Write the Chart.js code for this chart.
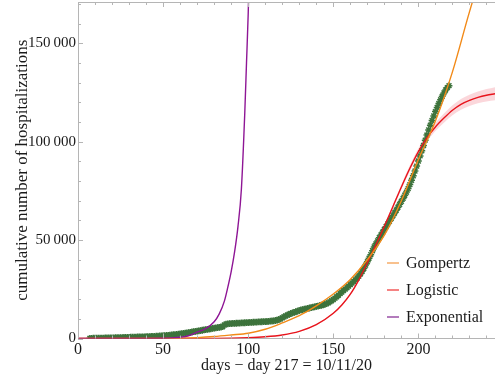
<!DOCTYPE html>
<html>
<head>
<meta charset="utf-8">
<script src="https://cdn.jsdelivr.net/npm/chart.js@4.4.1/dist/chart.umd.min.js"></script>
<style>
  html, body { margin: 0; padding: 0; background: #fff; }
  #wrap { width: 495px; height: 376px; }
</style>
</head>
<body>
<div id="wrap"><canvas id="chart" width="495" height="376"></canvas></div>
<script>
// observed cumulative hospitalizations, one value per day starting at day 7
const obsFirstDay = 7;
const obsValues = [
    100, 110, 120, 140, 160, 180, 200, 220, 240, 260,
    280, 300, 320, 340, 360, 380, 400, 420, 450, 480,
    510, 540, 570, 600, 630, 660, 690, 720, 750, 780,
    810, 840, 870, 900, 940, 980, 1020, 1060, 1100, 1150,
    1200, 1260, 1320, 1390, 1460, 1540, 1620, 1710, 1800, 1900,
    2000, 2110, 2220, 2340, 2460, 2590, 2720, 2860, 3000, 3150,
    3300, 3450, 3600, 3750, 3900, 4050, 4200, 4350, 4500, 4650,
    4800, 4950, 5100, 5250, 5400, 5550, 5700, 5850, 6000, 6900,
    7300, 7450, 7550, 7600, 7650, 7700, 7750, 7800, 7850, 7900,
    7950, 8000, 8050, 8100, 8150, 8200, 8250, 8300, 8350, 8400,
    8450, 8500, 8550, 8600, 8650, 8700, 8800, 8900, 9000, 9150,
    9350, 9650, 10000, 10500, 11000, 11500, 11900, 12300, 12700, 13000,
    13300, 13600, 13900, 14200, 14500, 14700, 14900, 15100, 15300, 15500,
    15700, 15900, 16100, 16300, 16500, 16700, 16900, 17100, 17400, 17700,
    18100, 18600, 19200, 19800, 20500, 21200, 22000, 22800, 23600, 24400,
    25100, 25800, 26600, 27400, 28200, 29000, 29800, 30700, 31700, 32900,
    34200, 35700, 37300, 39000, 40800, 42600, 44600, 46500, 48100, 49600,
    51200, 52600, 54000, 55400, 56800, 58200, 59600, 61000, 62400, 63800,
    65200, 66700, 68200, 69700, 71200, 72800, 74400, 76200, 78200, 80400,
    82700, 85100, 87600, 90200, 92800, 95400, 98100, 100800, 103400, 106000,
    108400, 110800, 113100, 115300, 117400, 119400, 121300, 123100, 124800, 126300,
    127500, 128500
];

// fitted curves
const gompDays = [0, 50, 60, 70, 80, 90, 100, 110, 120, 130, 140, 150, 160, 170, 180, 190, 200, 210, 220, 230, 240, 245];
const gompValues = [0, 30, 150, 450, 1000, 1800, 2700, 4700, 7900, 11600, 16600, 22600, 30000, 40000, 52500, 70000, 91000, 110500, 135500, 166000, 194000, 206000];

const logDays = [0, 50, 80, 100, 110, 120, 130, 140, 150, 155, 160, 165, 170, 175, 180, 185, 190, 195, 200, 205, 210, 215, 220, 225, 230, 235, 240, 245];
const logValues = [0, 20, 80, 450, 900, 1800, 3600, 7000, 12800, 17000, 22500, 29800, 38500, 47500, 57000, 67000, 77000, 86500, 95000, 102000, 107500, 112000, 116000, 119000, 121000, 122500, 123600, 124400];
const logBand = [0, 0, 0, 50, 80, 120, 180, 250, 350, 420, 500, 600, 700, 820, 950, 1100, 1300, 1500, 1700, 1900, 2100, 2300, 2500, 2700, 2850, 3000, 3150, 3300];

const expDays = [0, 20, 40, 50, 55, 60, 65, 70, 75, 80, 83, 86, 88, 90, 92, 94, 96, 98, 99, 100, 101];
const expValues = [0, 10, 60, 150, 300, 650, 1400, 3200, 5000, 8500, 12500, 19000, 26000, 34000, 44000, 57000, 76000, 115000, 140000, 165000, 200000];

const yTicks = [0, 50000, 100000, 150000];
const legendItems = [
    { label: 'Gompertz', color: '#f6ad68' },
    { label: 'Logistic', color: '#f25a5a' },
    { label: 'Exponential', color: '#9a4fa6' }
];

const SERIF = "'Liberation Serif', 'DejaVu Serif', serif";

function pts(xs, ys) {
    return xs.map((x, i) => ({ x: x, y: ys[i] }));
}

const obsPoints = obsValues.map((v, i) => ({ x: obsFirstDay + i, y: v }));

function fmtThousands(v) {
    if (v === 0) return '0';
    return Math.round(v / 1000) + '\u2009000';
}

// frame on top plus inward tick marks, like the original
const frameTicks = {
    id: 'frameTicks',
    afterDatasetsDraw(chart) {
        const { ctx, chartArea, scales } = chart;
        const x = scales.x, y = scales.y;
        ctx.save();
        ctx.strokeStyle = '#b5b5b5';
        ctx.lineWidth = 1;
        ctx.beginPath();
        ctx.moveTo(chartArea.left, chartArea.top + 0.5);
        ctx.lineTo(chartArea.right, chartArea.top + 0.5);
        for (let d = 0; d <= 240; d += 10) {
            const px = Math.round(x.getPixelForValue(d)) + 0.5;
            const len = d % 50 === 0 ? 5 : 3;
            ctx.moveTo(px, chartArea.bottom);
            ctx.lineTo(px, chartArea.bottom - len);
            ctx.moveTo(px, chartArea.top);
            ctx.lineTo(px, chartArea.top + len);
        }
        for (let v = 0; v <= 170000; v += 10000) {
            const py = Math.round(y.getPixelForValue(v)) + 0.5;
            const len = v % 50000 === 0 ? 5 : 3;
            ctx.moveTo(chartArea.left, py);
            ctx.lineTo(chartArea.left + len, py);
        }
        ctx.stroke();
        ctx.restore();
    },
    afterDraw(chart) {
        const { ctx } = chart;
        ctx.save();
        ctx.font = '16px ' + SERIF;
        ctx.textBaseline = 'middle';
        ctx.fillStyle = '#1a1a1a';
        legendItems.forEach((item, i) => {
            const yy = 263 + i * 27;
            ctx.strokeStyle = item.color;
            ctx.lineWidth = 1.5;
            ctx.beginPath();
            ctx.moveTo(387, yy);
            ctx.lineTo(399, yy);
            ctx.stroke();
            ctx.fillText(item.label, 406, yy + 1);
        });
        ctx.restore();
    }
};

const ctx = document.getElementById('chart').getContext('2d');
new Chart(ctx, {
    type: 'line',
    data: {
        datasets: [
            {
                label: 'observed',
                type: 'scatter',
                data: obsPoints,
                pointStyle: 'star',
                pointRadius: 3.4,
                borderColor: '#3d733c',
                backgroundColor: '#3d733c',
                pointBorderWidth: 1.5,
                showLine: false,
                order: 10
            },
            {
                label: 'band low',
                data: pts(logDays, logValues.map((v, i) => v - logBand[i])),
                borderWidth: 0,
                pointRadius: 0,
                cubicInterpolationMode: 'monotone',
                fill: false,
                order: 20
            },
            {
                label: 'band high',
                data: pts(logDays, logValues.map((v, i) => v + logBand[i])),
                borderWidth: 0,
                pointRadius: 0,
                cubicInterpolationMode: 'monotone',
                backgroundColor: 'rgba(245, 150, 160, 0.38)',
                fill: '-1',
                order: 20
            },
            {
                label: 'Logistic',
                data: pts(logDays, logValues),
                borderColor: '#e8141c',
                borderWidth: 1.4,
                pointRadius: 0,
                cubicInterpolationMode: 'monotone',
                fill: false,
                order: 3
            },
            {
                label: 'Gompertz',
                data: pts(gompDays, gompValues),
                borderColor: '#f28a18',
                borderWidth: 1.4,
                pointRadius: 0,
                cubicInterpolationMode: 'monotone',
                fill: false,
                order: 2
            },
            {
                label: 'Exponential',
                data: pts(expDays, expValues),
                borderColor: '#8e1595',
                borderWidth: 1.4,
                pointRadius: 0,
                cubicInterpolationMode: 'monotone',
                fill: false,
                order: 1
            }
        ]
    },
    options: {
        responsive: false,
        devicePixelRatio: 1,
        animation: false,
        layout: { autoPadding: false, padding: { top: 2, right: 0, bottom: 0, left: 0 } },
        plugins: {
            legend: { display: false },
            tooltip: { enabled: false }
        },
        scales: {
            x: {
                type: 'linear',
                min: 0,
                max: 245,
                grid: { display: false, drawTicks: false },
                border: { display: true, color: '#b5b5b5' },
                afterFit: (scale) => { scale.height = 37.5; },
                ticks: {
                    stepSize: 50,
                    includeBounds: false,
                    autoSkip: false,
                    maxRotation: 0,
                    padding: 2,
                    color: '#1a1a1a',
                    font: { family: SERIF, size: 16 }
                },
                title: {
                    display: true,
                    text: 'days \u2212 day 217 = 10/11/20',
                    color: '#1a1a1a',
                    font: { family: SERIF, size: 16 },
                    padding: { top: 0, bottom: 1 }
                }
            },
            y: {
                type: 'linear',
                min: 0,
                max: 171000,
                grid: { display: false, drawTicks: false },
                border: { display: true, color: '#b5b5b5' },
                afterFit: (scale) => {
                    scale.width = 78;
                    scale.paddingTop = 0;
                    scale.paddingBottom = 0;
                },
                afterBuildTicks: (scale) => { scale.ticks = yTicks.map(v => ({ value: v })); },
                ticks: {
                    padding: 2,
                    color: '#1a1a1a',
                    font: { family: SERIF, size: 15 },
                    callback: (v) => fmtThousands(v)
                },
                title: {
                    display: true,
                    text: 'cumulative number of hospitalizations',
                    color: '#1a1a1a',
                    font: { family: SERIF, size: 17 },
                    padding: { top: 12, bottom: 0 }
                }
            }
        }
    },
    plugins: [frameTicks]
});
</script>
</body>
</html>
